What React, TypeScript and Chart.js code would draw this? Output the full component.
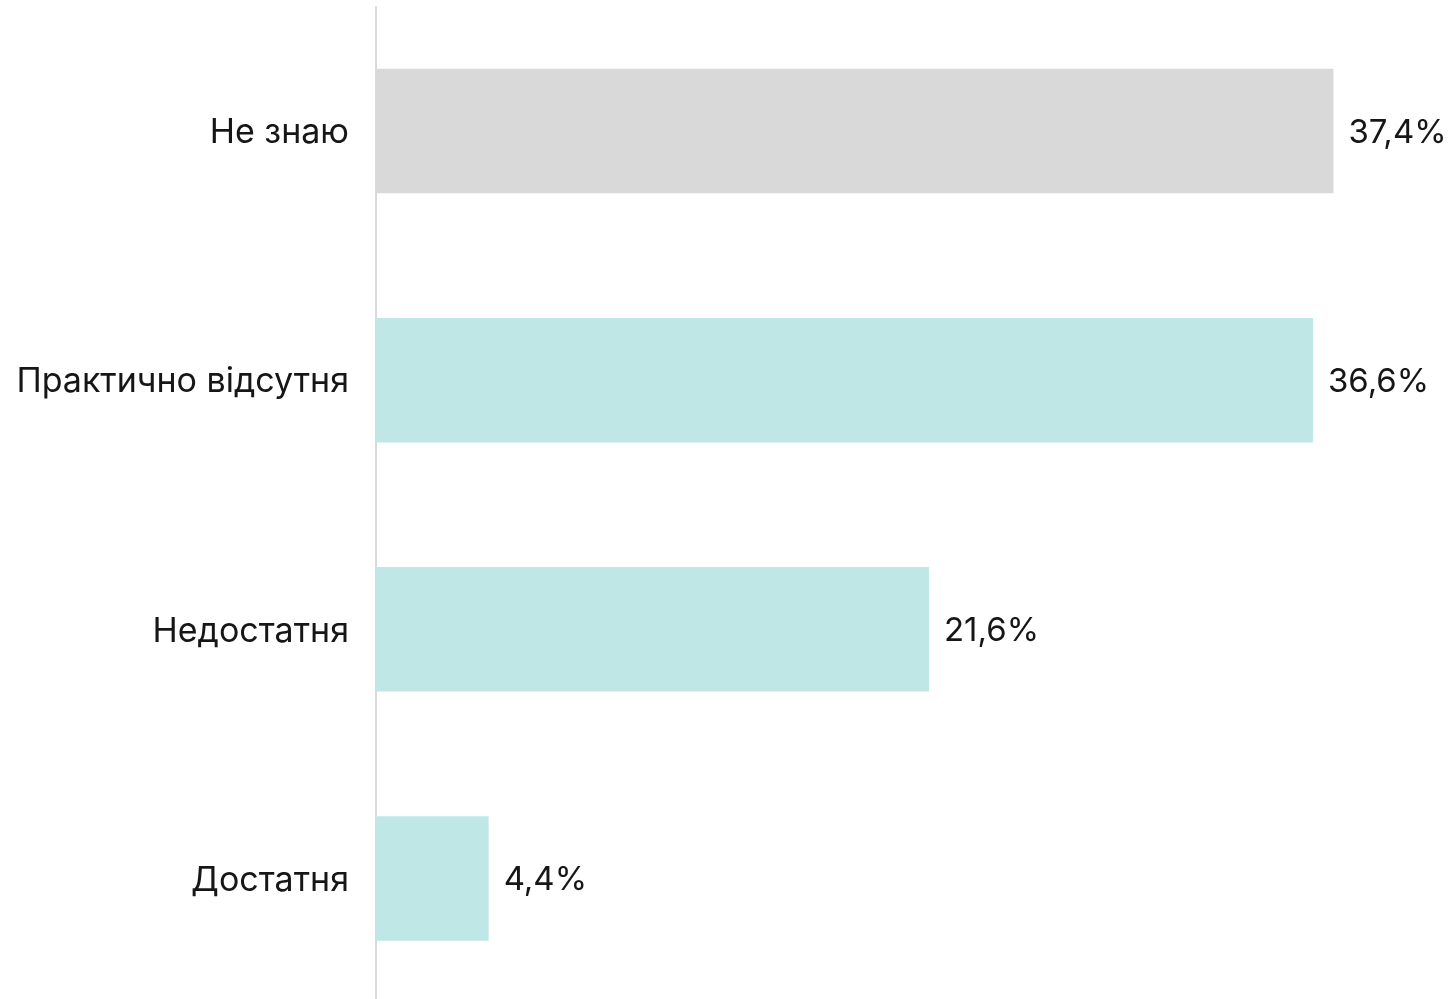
import React, { useEffect, useRef } from "react";
import { Chart, registerables } from "chart.js";

Chart.register(...registerables);

const categories = ["Не знаю", "Практично відсутня", "Недостатня", "Достатня"];
const values = [37.4, 36.6, 21.6, 4.4];
const barColors = ["#d9d9d9", "#bee7e6", "#bee7e6", "#bee7e6"];
const FONT = "Inter, 'Noto Sans', sans-serif";

const fmt = (v: number) => v.toFixed(1).replace(".", ",") + "%";

const valueLabels = {
  id: "valueLabels",
  afterDatasetsDraw(chart: any) {
    const ctx = chart.ctx;
    const meta = chart.getDatasetMeta(0);
    ctx.save();
    ctx.font = `33px ${FONT}`;
    ctx.fillStyle = "#161616";
    ctx.textAlign = "left";
    ctx.textBaseline = "middle";
    meta.data.forEach((bar: any, i: number) => {
      ctx.fillText(fmt(values[i]), bar.x + 15, bar.y + 2);
    });
    ctx.restore();
  },
};

export default function App() {
  const ref = useRef<HTMLCanvasElement>(null);
  useEffect(() => {
    document.body.style.margin = "0";
    document.body.style.overflow = "hidden";
    const chart = new Chart(ref.current!, {
      type: "bar",
      data: {
        labels: categories,
        datasets: [
          {
            data: values,
            backgroundColor: barColors,
            borderWidth: 0,
            barPercentage: 0.5,
            categoryPercentage: 1,
          },
        ],
      },
      options: {
        indexAxis: "y",
        animation: false,
        responsive: false,
        maintainAspectRatio: false,
        layout: { padding: { top: 6.5, right: 50, bottom: 0, left: 0 } },
        plugins: { legend: { display: false }, tooltip: { enabled: false } },
        scales: {
          x: { display: false, min: 0, max: 40 },
          y: {
            afterFit: (scale: any) => {
              scale.width = 376;
              scale.paddingTop = 0;
              scale.paddingBottom = 0;
            },
            grid: { display: false, drawTicks: false },
            border: { display: true, color: "#d9d9d9", width: 2 },
            ticks: {
              padding: 27,
              labelOffset: 2,
              color: "#161616",
              font: { family: FONT, size: 34 },
            },
          },
        },
      },
      plugins: [valueLabels],
    });
    return () => chart.destroy();
  }, []);
  return (
    <div style={{ position: "fixed", left: 0, top: 0, width: 1450, height: 1003 }}>
      <canvas ref={ref} width={1450} height={1003} style={{ width: 1450, height: 1003 }} />
    </div>
  );
}
